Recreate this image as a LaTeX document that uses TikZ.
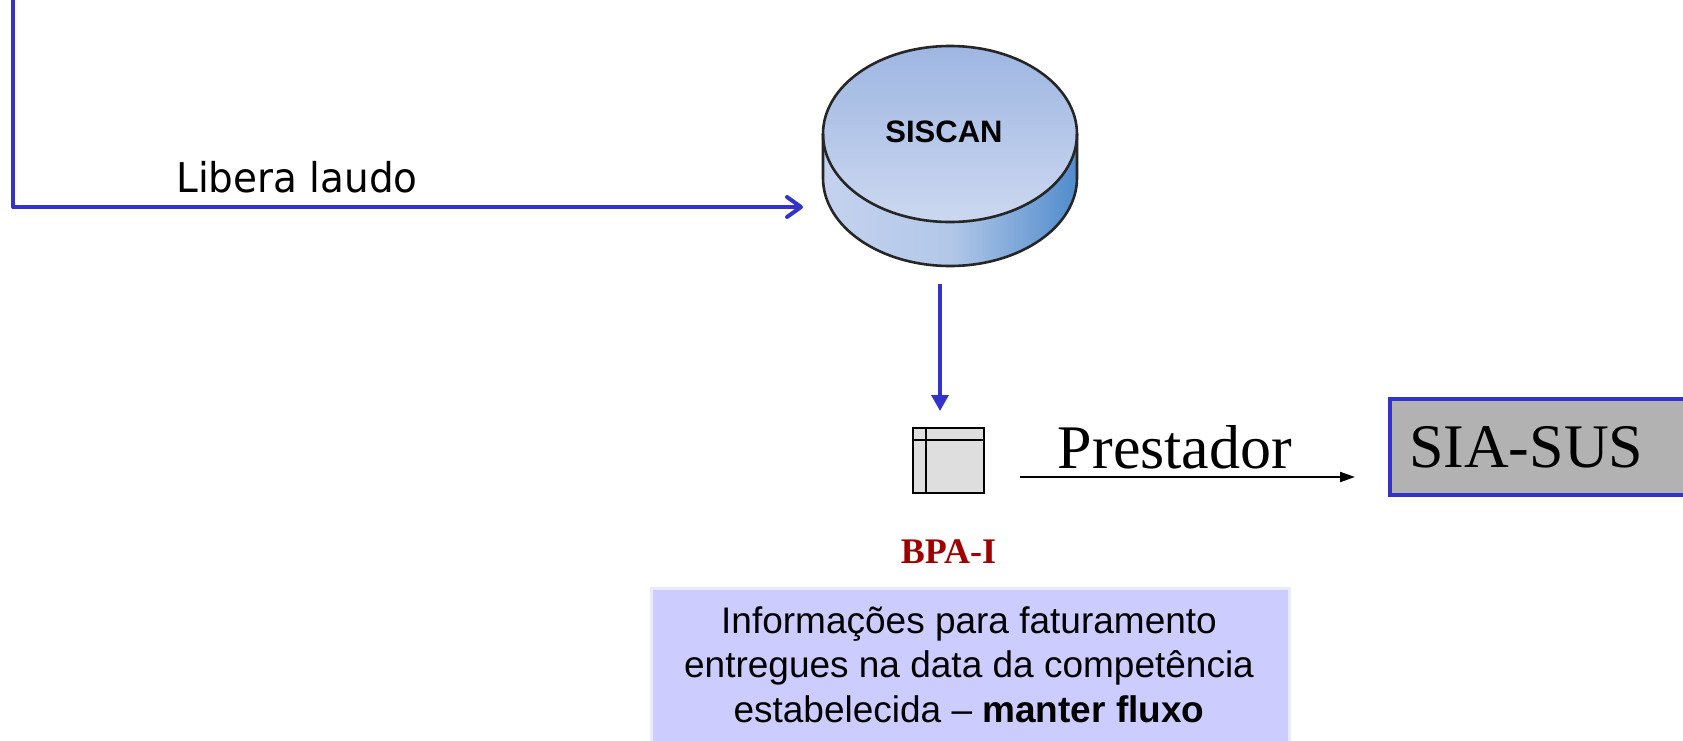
\documentclass[tikz,border=0pt]{standalone}
\usepackage{fontspec}
\setmainfont{Liberation Serif}
\newfontfamily\arialf{Liberation Sans}
\newfontfamily\condf{DejaVu Sans}[FakeStretch=0.95]
\usetikzlibrary{arrows.meta,calc}
\definecolor{lineblue}{RGB}{51,51,204}
\definecolor{siagray}{RGB}{178,178,178}
\definecolor{infofill}{RGB}{204,204,255}
\definecolor{infoedge}{RGB}{234,234,255}
\definecolor{bpared}{RGB}{160,0,0}
\definecolor{bpagray}{RGB}{222,222,222}
\definecolor{cyltopT}{RGB}{158,182,226}
\definecolor{cyltopB}{RGB}{204,216,240}
\definecolor{cylsideL}{RGB}{196,210,238}
\definecolor{cylsideR}{RGB}{80,140,204}
\begin{document}
\begin{tikzpicture}[x=0.5pt,y=0.5pt,
  bluel/.style={draw=lineblue, line width=2pt, line join=round},
  cylout/.style={draw=black!85, line width=1.3pt},
  bigserif/.style={font=\fontsize{31}{37}\selectfont},
  infotext/.style={font=\arialf\fontsize{18.5}{22.25}\selectfont, align=center, inner sep=0}]
\useasboundingbox (0,0) rectangle (1683,-740);

% cylinder SISCAN
\shade[left color=cylsideL, right color=cylsideR, middle color=cylsideL!85!cylsideR]
  (823,-134) -- (823,-178) arc[start angle=180,end angle=360,x radius=127,y radius=88]
  -- (1077,-134) arc[start angle=0,end angle=-180,x radius=127,y radius=88] -- cycle;
\shade[top color=cyltopT, bottom color=cyltopB] (950,-134) ellipse[x radius=127, y radius=88];
\draw[cylout] (823,-134) -- (823,-178) arc[start angle=180,end angle=360,x radius=127,y radius=88] -- (1077,-134);
\draw[cylout] (950,-134) ellipse[x radius=127, y radius=88];
\node[inner sep=0, minimum width=127pt, minimum height=110.5pt] (cyl) at (950,-155.5) {};
\node[font=\arialf\bfseries\fontsize{15.5}{18}\selectfont, inner sep=0] (siscan) at (944,-132) {SISCAN};

% Libera laudo connector
\coordinate (lstart) at (13,0);
\coordinate (lend) at (803,-207);
\draw[bluel, -{Straight Barb[length=7pt,width=10pt,line join=round,line cap=round]}] (lstart) |- (lend);
\node[font=\condf\fontsize{20.5}{24}\selectfont, anchor=base west, inner sep=0] (lib) at (176,-192) {Libera laudo};

% BPA-I icon
\node[draw=black, line width=1pt, fill=bpagray, minimum width=35.5pt, minimum height=32.5pt, inner sep=0] (bpa) at (948.5,-460.5) {};
\draw[line width=1pt] ([xshift=7pt]bpa.north west) -- ([xshift=7pt]bpa.south west);
\draw[line width=1pt] ([yshift=-6.5pt]bpa.north west) -- ([yshift=-6.5pt]bpa.north east);
\node[font=\bfseries\fontsize{18}{21}\selectfont, text=bpared, anchor=base, inner sep=0] (bpalbl) at (948.5,-563) {BPA-I};

% down arrow
\coordinate (dstart) at (940,-284);
\draw[draw=lineblue, line width=1.6pt, -{Triangle[length=8pt,width=8.5pt]}] (dstart) -- ([shift={(-8.5,16)}]bpa.north);

% SIA-SUS box
\node[draw=lineblue, line width=2pt, fill=siagray, anchor=west, minimum height=48pt, text width=140pt,
      inner xsep=9.5pt, inner ysep=0, align=left, bigserif] (sia) at (1388,-447) {SIA-SUS};

% Prestador arrow
\node[bigserif, anchor=base, inner sep=0] (prest) at (1175,-468) {Prestador};
\coordinate (pstart) at (1020,-477);
\draw[line width=1pt, -{Triangle[length=7.5pt,width=5pt]}, shorten >=16.5pt] (pstart) -- (sia.west |- pstart);

% info box
\fill[black!30] (653,-591) rectangle (1291,-770);
\node[fill=infofill, draw=infoedge, line width=1.5pt, minimum width=319pt, minimum height=90pt, anchor=north west, inner sep=0] (box) at (650,-587) {};
\node[infotext, anchor=north] (info) at (969,-606) {Informações para faturamento\\entregues na data da competência\\estabelecida – \textbf{manter fluxo}};
\end{tikzpicture}
\end{document}
